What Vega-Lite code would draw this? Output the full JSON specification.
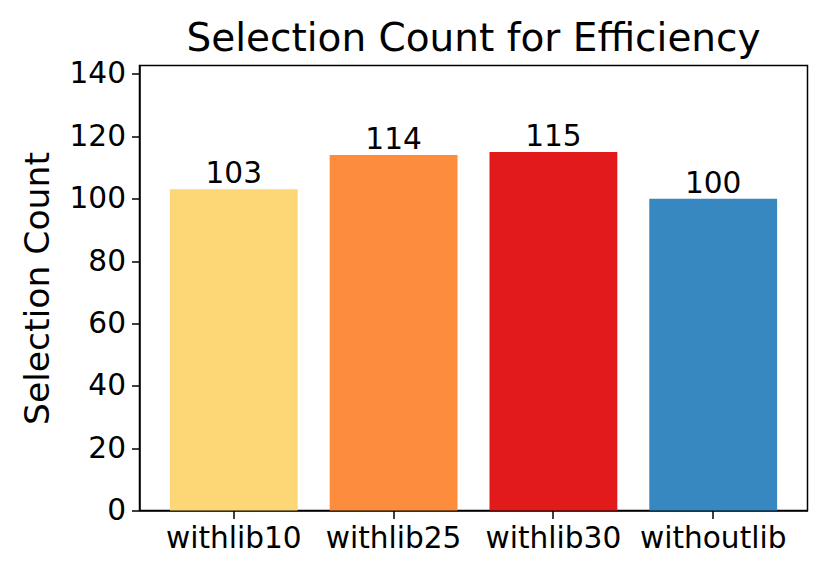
{
  "$schema": "https://vega.github.io/schema/vega-lite/v6.json",
  "autosize": "none",
  "width": 668,
  "height": 445,
  "padding": {"left": 139.5, "top": 65.5, "right": 22.5, "bottom": 68.5},
  "background": "white",
  "title": {"text": "Selection Count for Efficiency", "font": "DejaVu Sans", "fontSize": 39, "fontWeight": "normal", "color": "black", "baseline": "alphabetic", "offset": 11, "anchor": "middle", "frame": "group", "dy": 42},
  "data": {"values": [
    {"group": "withlib10", "count": 103},
    {"group": "withlib25", "count": 114},
    {"group": "withlib30", "count": 115},
    {"group": "withoutlib", "count": 100}
  ]},
  "config": {
    "view": {"stroke": "black", "strokeWidth": 1.5},
    "axis": {"labelFont": "DejaVu Sans", "titleFont": "DejaVu Sans", "labelColor": "black", "titleColor": "black", "domainColor": "black", "tickColor": "black", "domainWidth": 1.5, "tickWidth": 1.5, "tickSize": 8, "grid": false, "labelFontSize": 29.6, "titleFontSize": 34.6, "titleFontWeight": "normal"}
  },
  "layer": [
    {
      "mark": {"type": "bar"},
      "encoding": {
        "x": {"field": "group", "type": "nominal", "sort": null, "scale": {"paddingInner": 0.2, "paddingOuter": 0.19}, "axis": {"title": null, "labelAngle": 0, "labelPadding": 6}},
        "y": {"field": "count", "type": "quantitative", "scale": {"domain": [0, 142.7], "nice": false}, "axis": {"title": "Selection Count", "values": [0, 20, 40, 60, 80, 100, 120, 140], "labelPadding": 6, "titlePadding": 14}},
        "color": {"field": "group", "type": "nominal", "sort": null, "scale": {"domain": ["withlib10", "withlib25", "withlib30", "withoutlib"], "range": ["#fdd775", "#fd8d3c", "#e31a1c", "#3787c0"]}, "legend": null}
      }
    },
    {
      "mark": {"type": "text", "font": "DejaVu Sans", "fontSize": 29.6, "color": "black", "baseline": "alphabetic", "dy": -6},
      "encoding": {
        "x": {"field": "group", "type": "nominal", "sort": null},
        "y": {"field": "count", "type": "quantitative"},
        "text": {"field": "count", "type": "quantitative"}
      }
    }
  ]
}
